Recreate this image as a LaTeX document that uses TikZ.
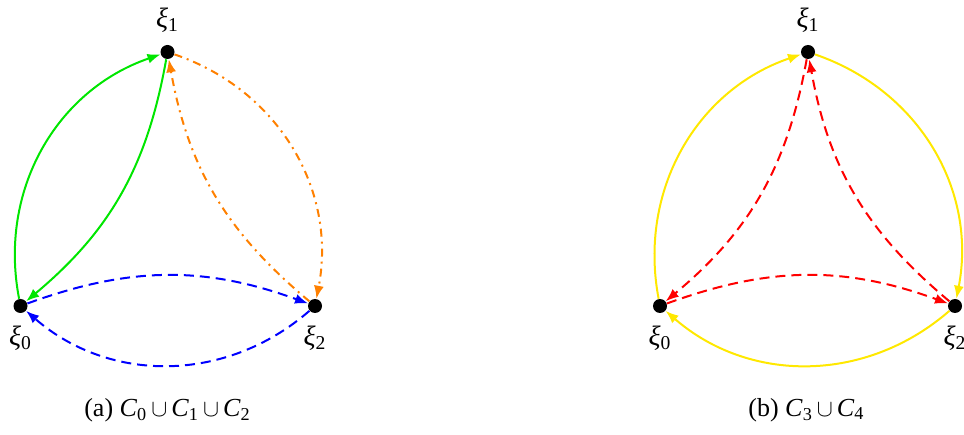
\documentclass[tikz,border=0pt]{standalone}
\usepackage{fontspec}
\setmainfont{Liberation Serif}
\usepackage{amsmath,amssymb}
\usepackage{tikz}
\usetikzlibrary{arrows.meta,positioning}

\tikzset{
  pt/.style={circle, fill=black, inner sep=0pt, minimum size=7pt},
  lab/.style={font=\fontsize{14}{16}\selectfont, inner sep=0pt},
  captxt/.style={font=\fontsize{13}{15}\selectfont, inner sep=0pt},
  arc/.style={line width=1pt, -{Latex[length=6.5pt,width=5pt]}},
  outer/.style={arc, bend left=41},
  inner/.style={arc, bend left=20},
  dsh/.style={dash pattern=on 5pt off 3pt},
  dshdot/.style={dash pattern=on 4pt off 2.5pt on 1pt off 2.5pt}
}
\newcommand{\xiv}[1]{\textit{ξ}\textsubscript{#1}}
\definecolor{grn}{RGB}{0,230,0}
\definecolor{org}{RGB}{255,128,0}
\definecolor{ylw}{RGB}{255,232,0}

\begin{document}
\begin{tikzpicture}[x=0.5pt, y=0.5pt]
\useasboundingbox (0,0) rectangle (964,434);

% (a)
\node[pt] (a0) at (20.5,128) {};
\node[pt] (a1) at (167.5,382) {};
\node[pt] (a2) at (315,128) {};
\node[lab, above=6pt of a1] (la1) {\xiv{1}};
\node[lab, below=6pt of a0] (la0) {\xiv{0}};
\node[lab, below=6pt of a2] (la2) {\xiv{2}};

\draw[grn, outer] (a0) to (a1);
\draw[grn, inner] (a1) to (a0);
\draw[org, outer, dshdot] (a1) to (a2);
\draw[org, inner, dshdot] (a2) to (a1);
\draw[blue, inner, dsh] (a0) to (a2);
\draw[blue, outer, dsh] (a2) to (a0);

\node[captxt] (capa) at (167.5,24) {(a) \textit{C}\textsubscript{0}$\,\cup\,$\textit{C}\textsubscript{1}$\,\cup\,$\textit{C}\textsubscript{2}};

% (b)
\node[pt] (b0) at (660,128) {};
\node[pt] (b1) at (808,382) {};
\node[pt] (b2) at (955,128) {};
\node[lab, above=6pt of b1] (lb1) {\xiv{1}};
\node[lab, below=6pt of b0] (lb0) {\xiv{0}};
\node[lab, below=6pt of b2] (lb2) {\xiv{2}};

\draw[ylw, outer] (b0) to (b1);
\draw[ylw, outer] (b1) to (b2);
\draw[ylw, outer] (b2) to (b0);
\draw[red, inner, dsh] (b1) to (b0);
\draw[red, inner, dsh] (b2) to (b1);
\draw[red, inner, dsh] (b0) to (b2);

\node[captxt] (capb) at (806.5,24) {(b) \textit{C}\textsubscript{3}$\,\cup\,$\textit{C}\textsubscript{4}};
\end{tikzpicture}
\end{document}
